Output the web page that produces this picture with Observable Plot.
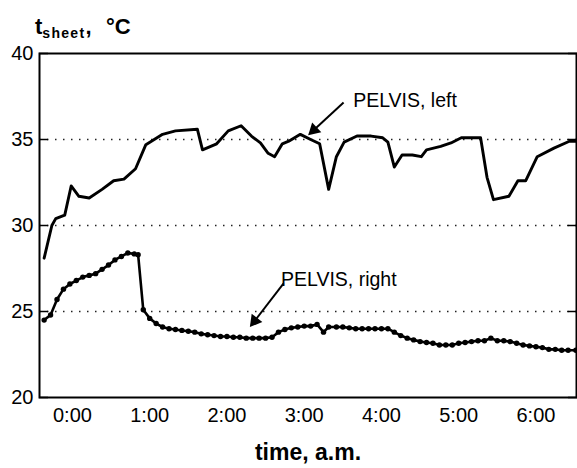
<!DOCTYPE html>
<html>
<head>
<meta charset="utf-8">
<script src="https://cdn.jsdelivr.net/npm/d3@7"></script>
<script src="https://cdn.jsdelivr.net/npm/@observablehq/plot@0.6"></script>
<style>
  html, body { margin: 0; padding: 0; background: #fff; }
  #chart { position: relative; width: 577px; height: 468px; }
</style>
</head>
<body>
<div id="chart"></div>
<script>
// ---- data (time in minutes after midnight, temperature in °C) ----
const leftMinutes = [-22, -16, -13, -6, -1, 5, 13, 23, 32, 40, 49, 57, 70, 80, 97, 101, 112, 121, 131, 139, 146, 152, 157, 163, 168, 177, 185, 192, 199, 205, 211, 221, 232, 241, 245, 250, 256, 264, 271, 275, 286, 294, 302, 317, 322, 327, 339, 346, 352, 361, 374, 386, 392];
const leftTemps   = [28.1, 30.0, 30.4, 30.6, 32.3, 31.7, 31.6, 32.1, 32.6, 32.7, 33.3, 34.7, 35.3, 35.5, 35.6, 34.4, 34.75, 35.5, 35.8, 35.2, 34.8, 34.2, 34.0, 34.75, 34.9, 35.3, 35.0, 34.75, 32.1, 34.0, 34.85, 35.2, 35.2, 35.1, 34.85, 33.4, 34.1, 34.1, 34.0, 34.4, 34.6, 34.8, 35.1, 35.1, 32.8, 31.5, 31.7, 32.6, 32.6, 34.0, 34.5, 34.9, 34.9];

const rightMinutes = [-22, -17, -12, -7, -2, 3, 8, 13, 18, 23, 28, 33, 38, 43, 48, 51, 55, 60, 65, 70, 75, 80, 85, 90, 95, 100, 105, 110, 115, 120, 125, 130, 135, 140, 145, 150, 155, 160, 165, 170, 175, 180, 185, 190, 195, 199, 205, 210, 215, 220, 225, 230, 235, 240, 245, 250, 255, 260, 265, 270, 275, 280, 285, 290, 295, 300, 305, 310, 315, 320, 325, 330, 335, 340, 345, 350, 355, 360, 365, 370, 375, 380, 385, 391];
const rightTemps   = [24.5, 24.8, 25.7, 26.3, 26.6, 26.8, 27.0, 27.1, 27.2, 27.45, 27.7, 28.0, 28.2, 28.4, 28.35, 28.3, 25.1, 24.6, 24.3, 24.1, 24.0, 23.95, 23.9, 23.85, 23.8, 23.7, 23.65, 23.6, 23.55, 23.55, 23.5, 23.5, 23.45, 23.45, 23.45, 23.45, 23.5, 23.8, 23.95, 24.05, 24.1, 24.15, 24.15, 24.25, 23.8, 24.1, 24.1, 24.1, 24.05, 24.0, 24.0, 24.0, 24.0, 24.0, 24.0, 23.8, 23.6, 23.45, 23.35, 23.25, 23.2, 23.15, 23.05, 23.05, 23.05, 23.15, 23.2, 23.25, 23.3, 23.3, 23.45, 23.3, 23.3, 23.25, 23.15, 23.05, 23.0, 22.95, 22.9, 22.8, 22.8, 22.75, 22.75, 22.75];

const xTicks = [0, 60, 120, 180, 240, 300, 360];
const xTickLabels = ["0:00", "1:00", "2:00", "3:00", "4:00", "5:00", "6:00"];
const yTicks = [20, 25, 30, 35, 40];
const gridValues = [25, 30, 35];

// annotation labels and arrows (data units)
const labelText = ["PELVIS, left", "PELVIS, right"];
const labelMinutes = [218, 162];
const labelTemps = [37.27, 26.86];
const arrowFromMinutes = [210.6, 164];
const arrowFromTemps = [37.15, 26.63];
const arrowToMinutes = [187.5, 141.5];
const arrowToTemps = [35.55, 24.45];

const xDomain = [-25.6, 391.5];
const yDomain = [20, 40];
const W = 577, H = 468, mL = 39, mR = 1, mT = 53, mB = 71;
const kx = (W - mL - mR) / (xDomain[1] - xDomain[0]);
const ky = (H - mT - mB) / (yDomain[1] - yDomain[0]);

const leftData = leftMinutes.map((m, i) => ({m, t: leftTemps[i]}));
const rightData = rightMinutes.map((m, i) => ({m, t: rightTemps[i]}));
const labels = labelText.map((s, i) => ({s, m: labelMinutes[i], t: labelTemps[i]}));
const arrows = arrowFromMinutes.map((m, i) => {
  const dx = (arrowToMinutes[i] - m) * kx;
  const dy = -(arrowToTemps[i] - arrowFromTemps[i]) * ky;
  return {x1: m, y1: arrowFromTemps[i], x2: arrowToMinutes[i], y2: arrowToTemps[i],
          angle: Math.atan2(dx, -dy) * 180 / Math.PI};
});

const font = "'Liberation Sans', Arial, Helvetica, sans-serif";

const chart = Plot.plot({
  width: W,
  height: H,
  marginLeft: mL,
  marginRight: mR,
  marginTop: mT,
  marginBottom: mB,
  style: {fontFamily: font, color: "#000", background: "#fff"},
  x: {domain: xDomain},
  y: {domain: yDomain},
  marks: [
    Plot.ruleY(gridValues, {stroke: "#222", strokeWidth: 1.3, strokeDasharray: "1.5,6.5"}),
    Plot.axisY(yTicks, {anchor: "left", tickSize: 0, tickPadding: 6, fontSize: 20, label: null}),
    Plot.axisY(yTicks, {anchor: "left", tickSize: -9, strokeWidth: 1.5, tickFormat: () => "", label: null}),
    Plot.axisY(yTicks, {anchor: "right", tickSize: -9, strokeWidth: 1.5, tickFormat: () => "", label: null}),
    Plot.axisX(xTicks, {tickSize: 0, tickPadding: 10, fontSize: 20, label: null,
      tickFormat: d => xTickLabels[xTicks.indexOf(d)]}),
    Plot.lineY(leftData, {x: "m", y: "t", stroke: "#000", strokeWidth: 2.9, strokeLinejoin: "round"}),
    Plot.lineY(rightData, {x: "m", y: "t", stroke: "#000", strokeWidth: 2.6}),
    Plot.dot(rightData, {x: "m", y: "t", fill: "#000", r: 2.7}),
    Plot.link(arrows, {x1: "x1", y1: "y1", x2: "x2", y2: "y2", stroke: "#000", strokeWidth: 2}),
    Plot.dot(arrows, {x: "x2", y: "y2", symbol: "triangle", r: 5, rotate: "angle", fill: "#000", stroke: "none"}),
    Plot.text(labels, {x: "m", y: "t", text: "s", textAnchor: "start", fontSize: 19.5, fill: "#000"}),
    Plot.text(["time, a.m."], {frameAnchor: "bottom", dy: 62, fontSize: 23, fontWeight: "bold", fill: "#000"}),
    Plot.frame({stroke: "#000", strokeWidth: 2})
  ]
});

// y-axis title with subscript
const svg = d3.select(chart);
const title = svg.append("text")
  .attr("x", 35).attr("y", 34).attr("text-anchor", "start")
  .attr("font-family", font).attr("font-weight", "bold").attr("font-size", 22).attr("fill", "#000");
title.append("tspan").text("t");
title.append("tspan").attr("font-size", 14).attr("letter-spacing", 1.3).attr("dy", 4).text("sheet");
title.append("tspan").attr("dy", -4).text(",");
title.append("tspan").attr("x", 106).text("°C");

document.getElementById("chart").appendChild(chart);
</script>
</body>
</html>
